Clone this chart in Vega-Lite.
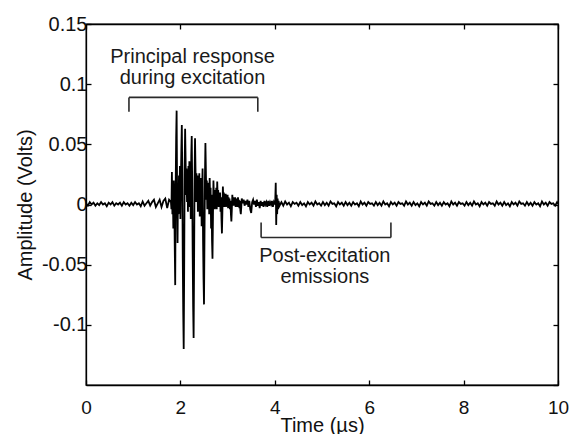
{
  "$schema": "https://vega.github.io/schema/vega-lite/v6.json",
  "width": 472,
  "height": 361,
  "autosize": "none",
  "padding": {"left": 86, "top": 24, "right": 13, "bottom": 49},
  "background": "white",
  "config": {
    "view": {"stroke": "black", "strokeWidth": 1.3},
    "font": "Liberation Sans",
    "axis": {"domainColor": "black", "tickColor": "black", "labelColor": "#111", "titleColor": "#111", "labelFont": "Liberation Sans", "titleFont": "Liberation Sans", "labelFontSize": 20, "titleFontSize": 20, "titleFontWeight": "normal", "grid": false, "domainWidth": 1.3, "tickWidth": 1.3}
  },
  "datasets": {
    "sig": [
      {"t":0.00,"v":0.001},{"t":0.04,"v":-0.001},{"t":0.08,"v":0.002},{"t":0.12,"v":0.0},{"t":0.16,"v":0.0015},{"t":0.20,"v":-0.001},{"t":0.24,"v":0.001},{"t":0.28,"v":-0.0005},{"t":0.32,"v":0.002},{"t":0.36,"v":0.0},{"t":0.40,"v":0.001},{"t":0.44,"v":-0.0015},{"t":0.48,"v":0.0015},{"t":0.52,"v":0.0},{"t":0.56,"v":0.002},{"t":0.60,"v":-0.001},{"t":0.64,"v":0.001},{"t":0.68,"v":0.0},{"t":0.72,"v":0.0015},{"t":0.76,"v":-0.001},{"t":0.80,"v":0.002},{"t":0.84,"v":0.0},{"t":0.88,"v":0.001},{"t":0.92,"v":-0.001},{"t":0.96,"v":0.0015},{"t":1.00,"v":-0.0005},{"t":1.04,"v":0.002},{"t":1.08,"v":0.0},{"t":1.12,"v":0.001},{"t":1.16,"v":-0.0015},{"t":1.20,"v":0.0025},{"t":1.24,"v":-0.001},{"t":1.28,"v":0.001},{"t":1.32,"v":0.003},{"t":1.36,"v":-0.001},{"t":1.40,"v":0.002},{"t":1.44,"v":0.004},{"t":1.48,"v":-0.002},{"t":1.52,"v":0.001},{"t":1.56,"v":0.004},{"t":1.60,"v":-0.002},{"t":1.64,"v":0.003},{"t":1.68,"v":0.005},{"t":1.72,"v":-0.003},{"t":1.76,"v":0.004},
      {"t":1.80,"v":0.002},{"t":1.81,"v":-0.004},{"t":1.82,"v":0.027},{"t":1.83,"v":-0.008},{"t":1.84,"v":0.012},{"t":1.85,"v":-0.02},{"t":1.86,"v":0.02},{"t":1.87,"v":0.004},{"t":1.88,"v":-0.035},{"t":1.89,"v":-0.067},
      {"t":1.90,"v":0.015},{"t":1.91,"v":0.055},{"t":1.92,"v":0.078},{"t":1.93,"v":0.012},{"t":1.94,"v":-0.032},{"t":1.95,"v":0.018},{"t":1.96,"v":-0.008},{"t":1.97,"v":0.024},{"t":1.98,"v":0.004},{"t":1.99,"v":0.032},
      {"t":2.00,"v":-0.012},{"t":2.01,"v":0.02},{"t":2.02,"v":0.045},{"t":2.03,"v":0.066},{"t":2.04,"v":0.025},{"t":2.05,"v":-0.045},{"t":2.06,"v":-0.09},{"t":2.07,"v":-0.12},{"t":2.08,"v":-0.055},{"t":2.09,"v":0.03},
      {"t":2.10,"v":0.063},{"t":2.11,"v":0.038},{"t":2.12,"v":0.008},{"t":2.13,"v":0.03},{"t":2.14,"v":0.002},{"t":2.15,"v":0.028},{"t":2.16,"v":-0.006},{"t":2.17,"v":0.032},{"t":2.18,"v":0.01},{"t":2.19,"v":0.036},
      {"t":2.20,"v":-0.002},{"t":2.21,"v":0.022},{"t":2.22,"v":-0.012},{"t":2.23,"v":0.04},{"t":2.24,"v":0.057},{"t":2.25,"v":0.018},{"t":2.26,"v":-0.04},{"t":2.27,"v":-0.085},{"t":2.28,"v":-0.111},{"t":2.29,"v":-0.05},
      {"t":2.30,"v":0.02},{"t":2.31,"v":0.055},{"t":2.32,"v":0.03},{"t":2.33,"v":0.002},{"t":2.34,"v":0.026},{"t":2.35,"v":0.008},{"t":2.36,"v":0.024},{"t":2.37,"v":-0.006},{"t":2.38,"v":0.02},{"t":2.39,"v":0.004},
      {"t":2.40,"v":0.026},{"t":2.41,"v":-0.01},{"t":2.42,"v":0.02},{"t":2.43,"v":0.0},{"t":2.44,"v":0.022},{"t":2.45,"v":-0.018},{"t":2.46,"v":0.012},{"t":2.47,"v":0.03},{"t":2.48,"v":-0.03},{"t":2.49,"v":-0.062},
      {"t":2.50,"v":-0.083},{"t":2.51,"v":-0.03},{"t":2.52,"v":0.022},{"t":2.53,"v":0.051},{"t":2.54,"v":0.028},{"t":2.55,"v":0.004},{"t":2.56,"v":0.02},{"t":2.57,"v":-0.004},{"t":2.58,"v":0.016},{"t":2.59,"v":0.0},
      {"t":2.60,"v":0.018},{"t":2.61,"v":-0.008},{"t":2.62,"v":0.022},{"t":2.63,"v":0.004},{"t":2.64,"v":0.014},{"t":2.65,"v":-0.02},{"t":2.66,"v":0.008},{"t":2.67,"v":-0.03},{"t":2.68,"v":-0.045},{"t":2.69,"v":-0.01},
      {"t":2.70,"v":0.02},{"t":2.71,"v":0.006},{"t":2.72,"v":0.012},{"t":2.73,"v":-0.004},{"t":2.74,"v":0.01},{"t":2.75,"v":0.0},{"t":2.76,"v":0.014},{"t":2.77,"v":-0.004},{"t":2.78,"v":0.019},{"t":2.79,"v":0.006},
      {"t":2.80,"v":0.012},{"t":2.81,"v":-0.002},{"t":2.82,"v":0.009},{"t":2.83,"v":0.0},{"t":2.84,"v":0.01},{"t":2.85,"v":-0.006},{"t":2.86,"v":0.006},{"t":2.87,"v":-0.012},{"t":2.88,"v":-0.024},{"t":2.89,"v":-0.006},
      {"t":2.90,"v":0.015},{"t":2.91,"v":0.004},{"t":2.92,"v":0.01},{"t":2.93,"v":-0.002},{"t":2.94,"v":0.008},{"t":2.95,"v":0.001},{"t":2.96,"v":0.009},{"t":2.97,"v":-0.002},{"t":2.98,"v":0.007},{"t":2.99,"v":0.0},
      {"t":3.00,"v":0.008},{"t":3.01,"v":-0.003},{"t":3.02,"v":0.006},{"t":3.03,"v":0.001},{"t":3.04,"v":0.005},{"t":3.05,"v":-0.004},{"t":3.06,"v":0.003},{"t":3.07,"v":-0.008},{"t":3.08,"v":-0.014},{"t":3.09,"v":-0.004},
      {"t":3.10,"v":0.008},{"t":3.11,"v":0.002},{"t":3.12,"v":0.006},{"t":3.13,"v":-0.001},{"t":3.14,"v":0.005},{"t":3.15,"v":0.0},{"t":3.16,"v":0.006},{"t":3.17,"v":-0.002},{"t":3.18,"v":0.004},{"t":3.19,"v":0.0},
      {"t":3.20,"v":0.005},{"t":3.21,"v":-0.002},{"t":3.22,"v":0.006},{"t":3.23,"v":0.001},{"t":3.24,"v":0.004},{"t":3.25,"v":-0.003},{"t":3.26,"v":0.003},{"t":3.27,"v":-0.005},{"t":3.28,"v":-0.008},{"t":3.29,"v":-0.002},
      {"t":3.30,"v":0.005},{"t":3.32,"v":0.001},{"t":3.34,"v":0.004},{"t":3.36,"v":-0.001},{"t":3.38,"v":0.003},{"t":3.40,"v":0.0},{"t":3.42,"v":0.004},{"t":3.44,"v":-0.002},{"t":3.46,"v":0.003},{"t":3.48,"v":-0.004},
      {"t":3.50,"v":-0.007},{"t":3.52,"v":0.002},{"t":3.54,"v":0.004},{"t":3.56,"v":0.0},{"t":3.58,"v":0.003},{"t":3.60,"v":-0.002},{"t":3.62,"v":0.004},{"t":3.64,"v":-0.001},{"t":3.66,"v":0.002},{"t":3.68,"v":-0.003},
      {"t":3.70,"v":0.003},{"t":3.72,"v":-0.001},{"t":3.74,"v":0.002},{"t":3.76,"v":-0.002},{"t":3.78,"v":0.003},{"t":3.80,"v":0.0},{"t":3.82,"v":0.002},{"t":3.84,"v":-0.002},{"t":3.86,"v":0.003},{"t":3.88,"v":-0.001},
      {"t":3.90,"v":0.002},{"t":3.92,"v":0.0},{"t":3.94,"v":0.003},{"t":3.96,"v":-0.002},{"t":3.98,"v":0.002},
      {"t":4.00,"v":0.0},{"t":4.01,"v":0.004},{"t":4.02,"v":0.018},{"t":4.03,"v":-0.017},{"t":4.04,"v":0.008},{"t":4.05,"v":-0.008},{"t":4.06,"v":0.005},{"t":4.07,"v":-0.004},{"t":4.08,"v":0.003},{"t":4.10,"v":-0.001},
      {"t":4.14,"v":0.002},{"t":4.18,"v":-0.001},{"t":4.22,"v":0.0025},{"t":4.26,"v":0.0},{"t":4.30,"v":0.0015},{"t":4.34,"v":-0.0015},{"t":4.38,"v":0.002},{"t":4.42,"v":0.0005},{"t":4.46,"v":0.0015},{"t":4.50,"v":-0.001},
      {"t":4.54,"v":0.002},{"t":4.58,"v":-0.0005},{"t":4.62,"v":0.001},{"t":4.66,"v":-0.0015},{"t":4.70,"v":0.002},{"t":4.74,"v":0.0},{"t":4.78,"v":0.0015},{"t":4.82,"v":-0.001},{"t":4.86,"v":0.0025},{"t":4.90,"v":0.0},
      {"t":4.94,"v":0.001},{"t":4.98,"v":-0.001},{"t":5.02,"v":0.002},{"t":5.06,"v":-0.0005},{"t":5.10,"v":0.0015},{"t":5.14,"v":-0.001},{"t":5.18,"v":0.0025},{"t":5.22,"v":0.0005},{"t":5.26,"v":0.001},{"t":5.30,"v":-0.0015},
      {"t":5.34,"v":0.002},{"t":5.38,"v":0.0},{"t":5.42,"v":0.0015},{"t":5.46,"v":-0.001},{"t":5.50,"v":0.002},{"t":5.54,"v":-0.0005},{"t":5.58,"v":0.0015},{"t":5.62,"v":-0.001},{"t":5.66,"v":0.002},{"t":5.70,"v":0.0},
      {"t":5.74,"v":0.001},{"t":5.78,"v":-0.0015},{"t":5.82,"v":0.0025},{"t":5.86,"v":0.0},{"t":5.90,"v":0.0015},{"t":5.94,"v":-0.001},{"t":5.98,"v":0.002},{"t":6.02,"v":0.0005},{"t":6.06,"v":0.001},{"t":6.10,"v":-0.001},
      {"t":6.14,"v":0.002},{"t":6.18,"v":-0.0005},{"t":6.22,"v":0.0015},{"t":6.26,"v":-0.001},{"t":6.30,"v":0.0025},{"t":6.34,"v":0.0},{"t":6.38,"v":0.001},{"t":6.42,"v":-0.0015},{"t":6.46,"v":0.002},{"t":6.50,"v":0.0},
      {"t":6.54,"v":0.0015},{"t":6.58,"v":-0.001},{"t":6.62,"v":0.002},{"t":6.66,"v":0.0005},{"t":6.70,"v":0.001},{"t":6.74,"v":-0.001},{"t":6.78,"v":0.0025},{"t":6.82,"v":0.0},{"t":6.86,"v":0.0015},{"t":6.90,"v":-0.001},
      {"t":6.94,"v":0.002},{"t":6.98,"v":-0.0005},{"t":7.02,"v":0.001},{"t":7.06,"v":-0.0015},{"t":7.10,"v":0.002},{"t":7.14,"v":0.0},{"t":7.18,"v":0.0015},{"t":7.22,"v":-0.001},{"t":7.26,"v":0.0025},{"t":7.30,"v":0.0005},
      {"t":7.34,"v":0.001},{"t":7.38,"v":-0.001},{"t":7.42,"v":0.002},{"t":7.46,"v":-0.0005},{"t":7.50,"v":0.0015},{"t":7.54,"v":-0.001},{"t":7.58,"v":0.002},{"t":7.62,"v":0.0},{"t":7.66,"v":0.001},{"t":7.70,"v":-0.0015},
      {"t":7.74,"v":0.0025},{"t":7.78,"v":0.0},{"t":7.82,"v":0.0015},{"t":7.86,"v":-0.001},{"t":7.90,"v":0.002},{"t":7.94,"v":0.0005},{"t":7.98,"v":0.001},{"t":8.02,"v":-0.001},{"t":8.06,"v":0.002},{"t":8.10,"v":-0.0005},
      {"t":8.14,"v":0.0015},{"t":8.18,"v":-0.001},{"t":8.22,"v":0.0025},{"t":8.26,"v":0.0},{"t":8.30,"v":0.001},{"t":8.34,"v":-0.0015},{"t":8.38,"v":0.002},{"t":8.42,"v":0.0},{"t":8.46,"v":0.0015},{"t":8.50,"v":-0.001},
      {"t":8.54,"v":0.002},{"t":8.58,"v":0.0005},{"t":8.62,"v":0.001},{"t":8.66,"v":-0.001},{"t":8.70,"v":0.0025},{"t":8.74,"v":0.0},{"t":8.78,"v":0.0015},{"t":8.82,"v":-0.001},{"t":8.86,"v":0.002},{"t":8.90,"v":-0.0005},
      {"t":8.94,"v":0.001},{"t":8.98,"v":-0.0015},{"t":9.02,"v":0.002},{"t":9.06,"v":0.0},{"t":9.10,"v":0.0015},{"t":9.14,"v":-0.001},{"t":9.18,"v":0.0025},{"t":9.22,"v":0.0005},{"t":9.26,"v":0.001},{"t":9.30,"v":-0.001},
      {"t":9.34,"v":0.002},{"t":9.38,"v":-0.0005},{"t":9.42,"v":0.0015},{"t":9.46,"v":-0.001},{"t":9.50,"v":0.002},{"t":9.54,"v":0.0},{"t":9.58,"v":0.001},{"t":9.62,"v":-0.0015},{"t":9.66,"v":0.0025},{"t":9.70,"v":0.0},
      {"t":9.74,"v":0.0015},{"t":9.78,"v":-0.001},{"t":9.82,"v":0.002},{"t":9.86,"v":0.0005},{"t":9.90,"v":0.001},{"t":9.94,"v":-0.001},{"t":9.98,"v":0.002},{"t":10.0,"v":0.0005}
    ],
    "brackets": [
      {"t":0.91,"t2":3.64,"v":0.089,"v2":0.089},
      {"t":0.91,"t2":0.91,"v":0.089,"v2":0.077},
      {"t":3.64,"t2":3.64,"v":0.089,"v2":0.077},
      {"t":3.71,"t2":6.46,"v":-0.0274,"v2":-0.0274},
      {"t":3.71,"t2":3.71,"v":-0.0274,"v2":-0.015},
      {"t":6.46,"t2":6.46,"v":-0.0274,"v2":-0.015}
    ],
    "notes": [
      {"t":2.256,"v":0.118,"label":"Principal response"},
      {"t":2.256,"v":0.1,"label":"during excitation"},
      {"t":5.06,"v":-0.048,"label":"Post-excitation"},
      {"t":5.06,"v":-0.065,"label":"emissions"}
    ]
  },
  "resolve": {"axis": {"x": "independent", "y": "independent"}},
  "layer": [
    {
      "data": {"name": "sig"},
      "mark": {"type": "line", "color": "black", "strokeWidth": 1.8, "clip": true},
      "encoding": {
        "x": {"field": "t", "type": "quantitative", "scale": {"domain": [0, 10], "nice": false, "zero": false},
              "axis": {"orient": "bottom", "title": "Time (µs)", "values": [0, 2, 4, 6, 8, 10], "tickSize": -5, "labelFontSize": 19, "labelPadding": 18, "titleFontSize": 20, "titleY": 46, "titleBaseline": "alphabetic", "labelFlush": false}},
        "y": {"field": "v", "type": "quantitative", "scale": {"domain": [-0.15, 0.15], "nice": false, "zero": false},
              "axis": {"orient": "left", "title": "Amplitude (Volts)", "values": [-0.1, -0.05, 0, 0.05, 0.1, 0.15], "labelExpr": "'' + datum.value", "tickSize": -5, "labelPadding": 4, "titlePadding": 6}}
      }
    },
    {
      "data": {"name": "brackets"},
      "mark": {"type": "rule", "color": "#2a2a2a", "strokeWidth": 1.6},
      "encoding": {
        "x": {"field": "t", "type": "quantitative", "axis": {"orient": "top", "values": [0, 2, 4, 6, 8, 10], "labels": false, "title": null, "tickSize": -5}},
        "x2": {"field": "t2"},
        "y": {"field": "v", "type": "quantitative", "axis": {"orient": "right", "values": [-0.15, -0.1, -0.05, 0, 0.05, 0.1, 0.15], "labels": false, "title": null, "tickSize": -5}},
        "y2": {"field": "v2"}
      }
    },
    {
      "data": {"name": "notes"},
      "mark": {"type": "text", "font": "Liberation Sans", "fontSize": 20, "color": "#1a1a1a", "align": "center", "baseline": "alphabetic"},
      "encoding": {
        "x": {"field": "t", "type": "quantitative", "axis": null},
        "y": {"field": "v", "type": "quantitative", "axis": null},
        "text": {"field": "label"}
      }
    }
  ]
}
